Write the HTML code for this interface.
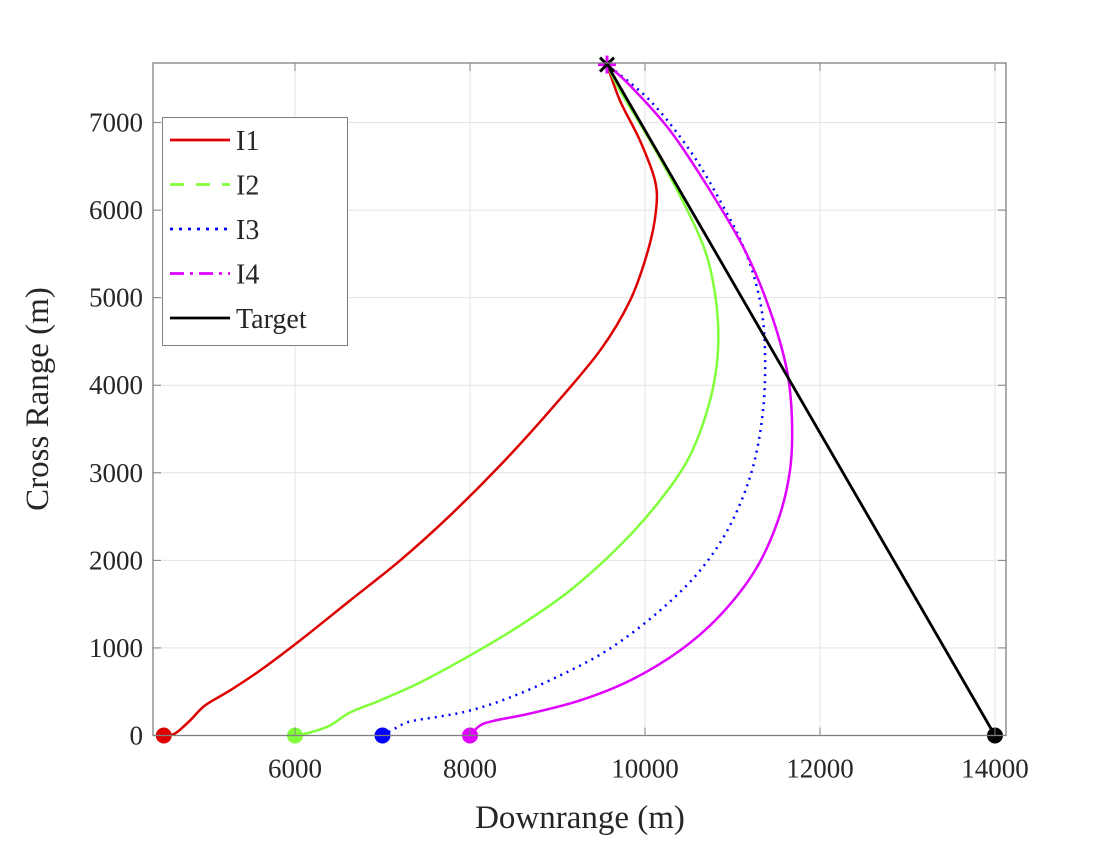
<!DOCTYPE html>
<html><head><meta charset="utf-8"><style>
body{margin:0;background:#fff}
svg text{font-family:"Liberation Serif",serif;fill:#262626}
</style></head><body>
<svg id="chart" width="1120" height="840" viewBox="0 0 1120 840">
<rect width="1120" height="840" fill="#fff"/>
<g id="grid"></g>
<g id="series"></g>
<g id="axes"></g>
<text x="580" y="828" font-size="33" text-anchor="middle">Downrange (m)</text>
<text transform="translate(48,399) rotate(-90)" font-size="33" text-anchor="middle">Cross Range (m)</text>
<g id="legend">
<rect x="162.5" y="117.5" width="185" height="228" fill="#fff" stroke="#808080" stroke-width="1"/>
</g>
</svg>
<script>
const xTicks=[6000,8000,10000,12000,14000];
const yTicks=[0,1000,2000,3000,4000,5000,6000,7000];
const names=["I1","I2","I3","I4"];
const colors=["#dd0000","#80ff3a","#0000ff","#e000ff"];
const i1x=[4500,4629,4800,4971,5257,5600,6057,6629,7200,7771,8343,8914,9486,9829,10034,10126,10114,9943,9714,9566];
const i1y=[0,23,171,343,514,742,1085,1542,1998,2512,3083,3711,4396,4967,5538,5995,6338,6794,7251,7662];
const i2x=[6000,6171,6400,6629,6971,7429,8000,8571,9143,9714,10171,10514,10743,10834,10811,10686,10400,10057,9714,9566];
const i2y=[0,34,114,263,400,605,914,1256,1656,2170,2684,3197,3825,4396,4967,5538,6166,6794,7366,7662];
const i3x=[7000,7143,7314,7657,8000,8457,9029,9600,10171,10629,10971,11223,11349,11371,11314,11143,10857,10514,10057,9566];
const i3y=[0,80,160,217,285,434,685,993,1427,1884,2398,3026,3711,4396,4967,5538,6109,6680,7251,7662];
const i4x=[8000,8114,8286,8686,9257,9829,10400,10857,11257,11520,11657,11680,11623,11429,11143,10743,10286,9829,9566];
const i4y=[0,114,171,251,400,628,971,1370,1884,2455,3026,3597,4168,4853,5538,6224,6909,7423,7662];
const targetX=[14000,9566];
const targetY=[0,7662];
const NS="http://www.w3.org/2000/svg";
const L=153,R=1006,T=63,B=735.5;
const X0=4377,X1=14126,Y0=0,Y1=7680;
const sx=v=>L+(v-X0)/(X1-X0)*(R-L);
const sy=v=>B-(v-Y0)/(Y1-Y0)*(B-T);
function mk(tag,attrs,parent){const e=document.createElementNS(NS,tag);for(const k in attrs)e.setAttribute(k,attrs[k]);parent.appendChild(e);return e;}
const grid=document.getElementById('grid'),axes=document.getElementById('axes'),ser=document.getElementById('series'),leg=document.getElementById('legend');
xTicks.forEach(t=>{const x=sx(t);
const g=mk('line',{x1:x,x2:x,y1:T,y2:B,stroke:'#e3e3e3','stroke-width':1},grid);


mk('line',{x1:x,x2:x,y1:B,y2:B-8,stroke:'#808080'},axes);
mk('line',{x1:x,x2:x,y1:T,y2:T+8,stroke:'#808080'},axes);
const tx=mk('text',{x:x,y:B+42,'font-size':27,'text-anchor':'middle'},axes);tx.textContent=t;

});
yTicks.forEach(t=>{const y=sy(t);
const g=mk('line',{x1:L,x2:R,y1:y,y2:y,stroke:'#e3e3e3','stroke-width':1},grid);


mk('line',{x1:L,x2:L+8,y1:y,y2:y,stroke:'#808080'},axes);
mk('line',{x1:R,x2:R-8,y1:y,y2:y,stroke:'#808080'},axes);
const tx=mk('text',{x:L-10,y:y+9,'font-size':27,'text-anchor':'end'},axes);tx.textContent=t;

});
mk('rect',{x:L,y:T,width:R-L,height:B-T,fill:'none',stroke:'#808080','stroke-width':1.3},axes);
function smooth(xs,ys){const p=xs.map((v,i)=>[sx(v),sy(ys[i])]);let d='M'+p[0][0]+','+p[0][1];
for(let i=0;i<p.length-1;i++){const a=p[i-1]||p[i],b=p[i],c=p[i+1],e=p[i+2]||c;
d+=' C'+(b[0]+(c[0]-a[0])/6)+','+(b[1]+(c[1]-a[1])/6)+' '+(c[0]-(e[0]-b[0])/6)+','+(c[1]-(e[1]-b[1])/6)+' '+c[0]+','+c[1];}return d;}
const data=[[i1x,i1y],[i2x,i2y],[i3x,i3y],[i4x,i4y]];
const dashes=['none','none','2,5','none'];
data.forEach((s,i)=>{const p=mk('path',{d:smooth(s[0],s[1]),fill:'none',stroke:colors[i],'stroke-width':2.5,'stroke-dasharray':dashes[i]},ser);


const c=mk('circle',{cx:sx(s[0][0]),cy:sy(s[1][0]),r:8,fill:colors[i]},ser);

});
const tl=mk('line',{x1:sx(targetX[0]),y1:sy(targetY[0]),x2:sx(targetX[1]),y2:sy(targetY[1]),stroke:'#000','stroke-width':2.8},ser);


const tc=mk('circle',{cx:sx(targetX[0]),cy:sy(targetY[0]),r:8,fill:'#000'},ser);


const ex=sx(targetX[1]),ey=sy(targetY[1]);
mk('line',{x1:ex-9,x2:ex+9,y1:ey,y2:ey,stroke:'#e000ff','stroke-width':3},ser);
mk('line',{x1:ex,x2:ex,y1:ey-9,y2:ey+9,stroke:'#e000ff','stroke-width':3},ser);
const st=mk('path',{d:`M${ex-7},${ey-7}L${ex+7},${ey+7}M${ex-7},${ey+7}L${ex+7},${ey-7}`,stroke:'#000','stroke-width':3},ser);


const legNames=names.concat(['Target']),legCols=colors.concat(['#000']),legDash=['none','14,12','3,6','14,6,3,6','none'];
legNames.forEach((n,i)=>{const y=140+i*44.5;
const g=mk('g',{},leg);


mk('line',{x1:170,x2:230,y1:y,y2:y,stroke:legCols[i],'stroke-width':2.8,'stroke-dasharray':legDash[i]},g);
const t=mk('text',{x:236,y:y+10,'font-size':28,fill:'#000'},g);t.textContent=n;});
</script>
</body></html>
